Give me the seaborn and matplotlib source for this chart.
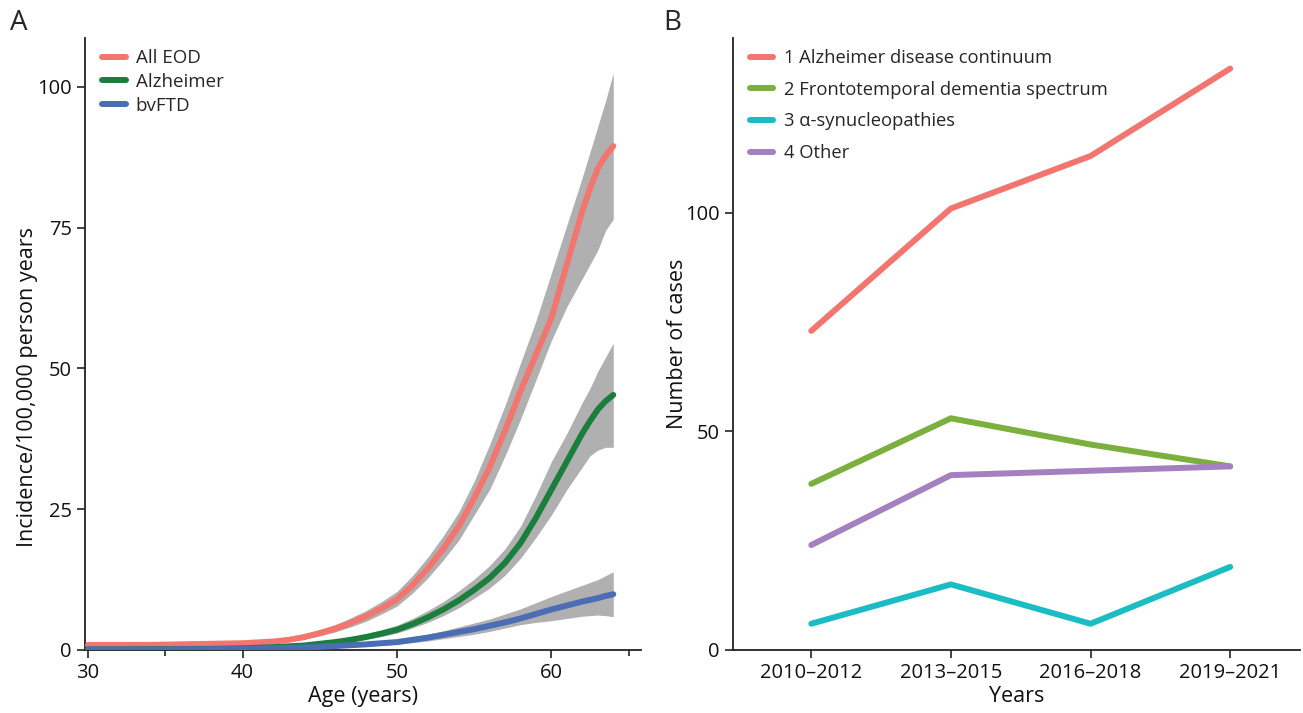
import numpy as np
import pandas as pd
import matplotlib
matplotlib.use("Agg")
import matplotlib.pyplot as plt
import seaborn as sns

sns.set_theme(style="ticks")
plt.rcParams['font.family'] = ['Open Sans', 'DejaVu Sans']

# Panel A: incidence by age
ages = [30, 32, 34, 36, 38, 40, 42, 43, 44, 45, 46, 47, 48, 49, 50, 51, 52, 53, 54,
        55, 56, 57, 58, 59, 60, 61, 62, 62.5, 63, 63.5, 64]
eod_mean = [0.9, 0.9, 0.9, 1.0, 1.1, 1.2, 1.5, 1.8, 2.3, 3.0, 3.8, 4.8, 6.0, 7.4, 9.0, 11.5, 14.5, 18.0, 22.0,
            27.0, 32.5, 39.0, 46.0, 52.5, 59.0, 68.5, 78.0, 82.0, 85.5, 87.8, 89.5]
eod_low = [0.5, 0.6, 0.6, 0.7, 0.8, 0.9, 1.2, 1.5, 1.9, 2.5, 3.2, 4.1, 5.1, 6.4, 7.8, 10.1, 12.8, 16.0, 19.5,
           24.0, 28.5, 34.5, 41.0, 48.0, 55.0, 61.0, 66.0, 68.5, 71.0, 74.5, 76.5]
eod_high = [1.3, 1.3, 1.3, 1.3, 1.4, 1.5, 1.9, 2.2, 2.8, 3.6, 4.5, 5.7, 7.0, 8.6, 10.4, 13.2, 16.5, 20.3, 24.5,
            30.0, 36.5, 43.5, 51.0, 58.5, 67.0, 75.5, 84.0, 88.5, 93.0, 97.5, 102.5]
alz_mean = [0.1, 0.1, 0.15, 0.15, 0.2, 0.3, 0.5, 0.65, 0.8, 1.1, 1.4, 1.8, 2.3, 2.9, 3.6, 4.6, 5.8, 7.2, 8.8,
            10.7, 12.8, 15.5, 19.0, 23.5, 28.5, 33.5, 38.5, 40.7, 42.7, 44.2, 45.3]
alz_low = [0.0, 0.0, 0.05, 0.05, 0.1, 0.15, 0.3, 0.45, 0.6, 0.85, 1.1, 1.5, 1.9, 2.4, 3.0, 3.9, 4.9, 6.1, 7.5,
           9.2, 11.0, 13.3, 16.3, 20.0, 24.0, 28.5, 32.5, 34.5, 35.5, 36.0, 36.0]
alz_high = [0.3, 0.3, 0.3, 0.35, 0.4, 0.5, 0.7, 0.9, 1.1, 1.4, 1.8, 2.3, 2.9, 3.6, 4.4, 5.6, 7.0, 8.6, 10.5,
            12.6, 15.0, 18.0, 22.0, 27.5, 33.5, 38.5, 44.0, 46.5, 49.5, 52.0, 54.5]
ftd_mean = [0.1, 0.1, 0.1, 0.12, 0.15, 0.2, 0.3, 0.37, 0.45, 0.55, 0.7, 0.85, 1.0, 1.2, 1.4, 1.8, 2.2, 2.7, 3.2,
            3.7, 4.3, 4.9, 5.6, 6.4, 7.2, 7.9, 8.6, 8.9, 9.2, 9.6, 9.9]
ftd_low = [0.0, 0.0, 0.0, 0.02, 0.05, 0.1, 0.15, 0.22, 0.3, 0.4, 0.5, 0.6, 0.7, 0.85, 1.0, 1.3, 1.6, 2.0, 2.4,
           2.8, 3.3, 3.9, 4.5, 4.9, 5.2, 5.6, 6.0, 6.1, 6.2, 6.1, 5.9]
ftd_high = [0.3, 0.3, 0.3, 0.3, 0.3, 0.4, 0.5, 0.55, 0.65, 0.75, 0.9, 1.1, 1.3, 1.55, 1.8, 2.3, 2.8, 3.4, 4.1,
            4.8, 5.5, 6.4, 7.3, 8.4, 9.5, 10.5, 11.5, 12.0, 12.5, 13.2, 13.9]

# Panel B: number of cases per period
periods = ["2010\u20132012", "2013\u20132015", "2016\u20132018", "2019\u20132021"]
ad_cases = [73, 101, 113, 133]
ftd_cases = [38, 53, 47, 42]
syn_cases = [6, 15, 6, 19]
other_cases = [24, 40, 41, 42]

labels_a = ["All EOD", "Alzheimer", "bvFTD"]
colors_a = ["#F2756F", "#1A7F3C", "#4A6DB3"]
labels_b = ["1 Alzheimer disease continuum", "2 Frontotemporal dementia spectrum",
            "3 \u03b1-synucleopathies", "4 Other"]
colors_b = ["#F2756F", "#7BAF3E", "#1BBCC3", "#A580C0"]

df_a = pd.concat([
    pd.DataFrame({"age": ages, "rate": eod_mean, "group": labels_a[0]}),
    pd.DataFrame({"age": ages, "rate": alz_mean, "group": labels_a[1]}),
    pd.DataFrame({"age": ages, "rate": ftd_mean, "group": labels_a[2]}),
])
df_b = pd.concat([
    pd.DataFrame({"period": periods, "cases": vals, "group": lab})
    for vals, lab in zip([ad_cases, ftd_cases, syn_cases, other_cases], labels_b)
])

fig = plt.figure(figsize=(13.03, 7.13), dpi=100)
ax1 = fig.add_axes([0.0652, 0.0884, 0.4268, 0.8583])
ax2 = fig.add_axes([0.5626, 0.0884, 0.4351, 0.8583])

# bands first, lines on top
for low, high in [(eod_low, eod_high), (alz_low, alz_high), (ftd_low, ftd_high)]:
    ax1.fill_between(ages, low, high, color="#B0B0B0", lw=0, zorder=1)
sns.lineplot(data=df_a, x="age", y="rate", hue="group", palette=colors_a,
             hue_order=labels_a, lw=4.3, ax=ax1, zorder=3)

ax1.set_xlim(29.8, 65.8)
ax1.set_ylim(0, 108.7)
ax1.set_xticks([30, 40, 50, 60])
ax1.set_xticks([35, 65], minor=True)
ax1.set_yticks([0, 25, 50, 75, 100])
ax1.set_xlabel("Age (years)", fontsize=15.5, labelpad=2)
ax1.set_ylabel("Incidence/100,000 person years", fontsize=15.5)
ax1.yaxis.set_label_coords(-0.085, 0.43)
ax1.legend(loc="upper left", bbox_to_anchor=(0.0, 1.009), frameon=False, fontsize=13.5,
           handlelength=1.3, handletextpad=0.5, labelspacing=0.3)

sns.lineplot(data=df_b, x="period", y="cases", hue="group", palette=colors_b,
             hue_order=labels_b, lw=4.3, ax=ax2, sort=False)
ax2.set_xlim(-0.56, 3.5)
ax2.set_ylim(0, 140)
ax2.set_yticks([0, 50, 100])
ax2.set_xlabel("Years", fontsize=15.5, labelpad=2)
ax2.set_ylabel("Number of cases", fontsize=15.5)
ax2.yaxis.set_label_coords(-0.079, 0.5)
ax2.legend(loc="upper left", bbox_to_anchor=(0.0, 1.009), frameon=False, fontsize=13.2,
           handlelength=1.3, handletextpad=0.6, labelspacing=0.75)

for ax in (ax1, ax2):
    sns.despine(ax=ax)
    for sp in ("left", "bottom"):
        ax.spines[sp].set_color("#222222")
        ax.spines[sp].set_linewidth(1.3)
    ax.tick_params(axis="both", which="major", labelsize=14.5, length=6, width=1.2,
                   color="#222222", labelcolor="#111111")
    ax.tick_params(axis="x", which="minor", length=4, width=1.2, color="#222222")
    ax.xaxis.label.set_color("#111111")
    ax.yaxis.label.set_color("#111111")

fig.text(0.008, 0.968, "A", fontsize=20, va="center", ha="left")
fig.text(0.509, 0.968, "B", fontsize=20, va="center", ha="left")

fig.savefig("out.png", dpi=100)
